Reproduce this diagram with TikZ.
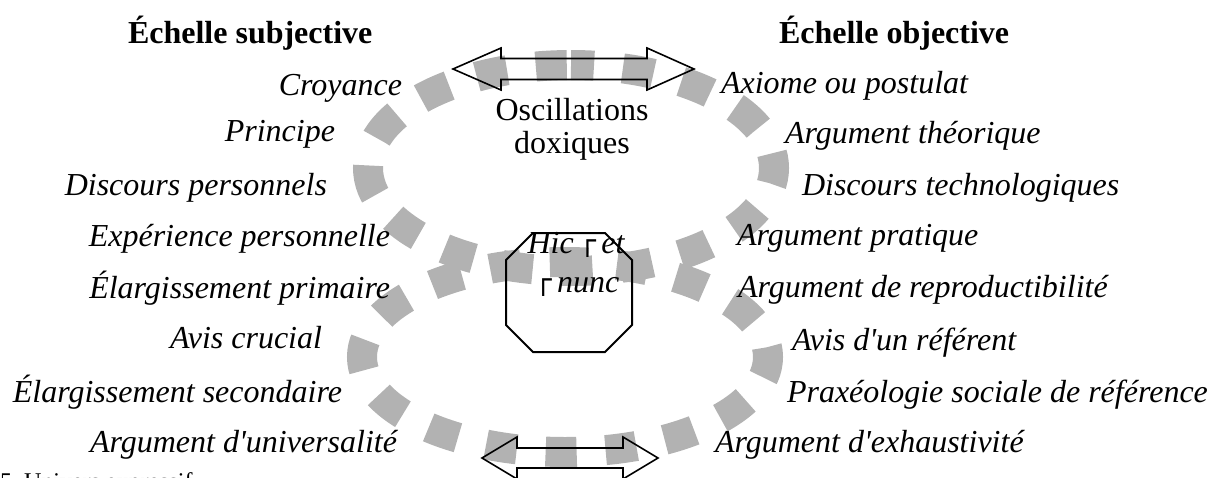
\documentclass[tikz,border=0pt]{standalone}
\usepackage{fontspec}
\usetikzlibrary{calc}
\setmainfont{Liberation Serif}[Ligatures=TeXOff]
\newfontfamily\boxglyph{DejaVu Sans}
\definecolor{ringgray}{RGB}{178,178,178}
\tikzset{
  every node/.style={inner sep=0pt, outer sep=0pt},
  item/.style={font=\fontsize{16}{17}\selectfont\itshape},
  heading/.style={font=\fontsize{16}{17}\selectfont\bfseries, anchor=base west},
  plain/.style={font=\fontsize{16}{17}\selectfont, anchor=base},
  leftitem/.style={item, anchor=base east},
  rightitem/.style={item, anchor=base west},
  ring/.style={draw=ringgray, line width=15pt, dash pattern=on 15.5pt off 14.5pt, dash phase=4pt},
  blockarrow/.style={draw=black, line width=0.8pt, line join=miter},
  frame/.style={draw=black, line width=1pt, line join=miter}
}
\newcommand\cornermark{\raisebox{1.2pt}{\boxglyph\fontsize{14}{14}\selectfont ┌}}

\begin{document}
\begin{tikzpicture}[x=0.5pt,y=-0.5pt]
\useasboundingbox (0,0) rectangle (1209,477);
\clip (0,0) rectangle (1209,477);

% the two dashed rings
\draw[ring] (571,65) arc[start angle=270, end angle=630, x radius=203, y radius=103];
\draw[ring] (565,262) arc[start angle=270, end angle=630, x radius=203, y radius=95];

% octagon round "hic et nunc"
\coordinate (oct) at (569,292.5);
\draw[frame] ($(oct)+(-36,-59.5)$) -- ($(oct)+(36,-59.5)$) -- ($(oct)+(63,-32.5)$)
  -- ($(oct)+(63,32.5)$) -- ($(oct)+(36,59.5)$) -- ($(oct)+(-36,59.5)$)
  -- ($(oct)+(-63,32.5)$) -- ($(oct)+(-63,-32.5)$) -- cycle;
\node[item, anchor=base] (hic) at (576,253) {Hic\,\cornermark\,et};
\node[item, anchor=base] (nunc) at (577,292) {\cornermark\,nunc};

% double block arrows
\draw[blockarrow] (453,69) -- (501,48) -- (501,58.5) -- (647,58.5) -- (647,48) -- (694,69)
  -- (647,90) -- (647,79.5) -- (501,79.5) -- (501,90) -- cycle;
\draw[blockarrow] (482,458) -- (517,437) -- (517,448) -- (623,448) -- (623,437) -- (658,458)
  -- (623,479) -- (623,468) -- (517,468) -- (517,479) -- cycle;

\node[plain] (osc) at (572,120) {Oscillations};
\node[plain] (dox) at (572,153) {doxiques};

% headings
\node[heading] (subj) at (128,43) {Échelle subjective};
\node[heading] (obj) at (779,43) {Échelle objective};

% subjective scale
\node[leftitem] (s1) at (402,95) {Croyance};
\node[leftitem] (s2) at (335,141) {Principe};
\node[leftitem] (s3) at (327,195) {Discours personnels};
\node[leftitem] (s4) at (390,246) {Expérience personnelle};
\node[leftitem] (s5) at (390,298) {Élargissement primaire};
\node[leftitem] (s6) at (322,348) {Avis crucial};
\node[leftitem] (s7) at (342,402) {Élargissement secondaire};
\node[leftitem] (s8) at (397,452) {Argument d'universalité};

% objective scale
\node[rightitem] (o1) at (721,93) {Axiome ou postulat};
\node[rightitem] (o2) at (785,143) {Argument théorique};
\node[rightitem] (o3) at (802,195) {Discours technologiques};
\node[rightitem] (o4) at (737,245) {Argument pratique};
\node[rightitem] (o5) at (738,297) {Argument de reproductibilité};
\node[rightitem] (o6) at (792,350) {Avis d'un référent};
\node[rightitem] (o7) at (787,402) {Praxéologie sociale de référence};
\node[rightitem] (o8) at (715,452) {Argument d'exhaustivité};

% caption line, cut by the lower edge
\node[font=\fontsize{12}{14}\selectfont, anchor=base west] (cap) at (0,489) {5\hspace{6pt}Univers expressif};
\end{tikzpicture}
\end{document}
